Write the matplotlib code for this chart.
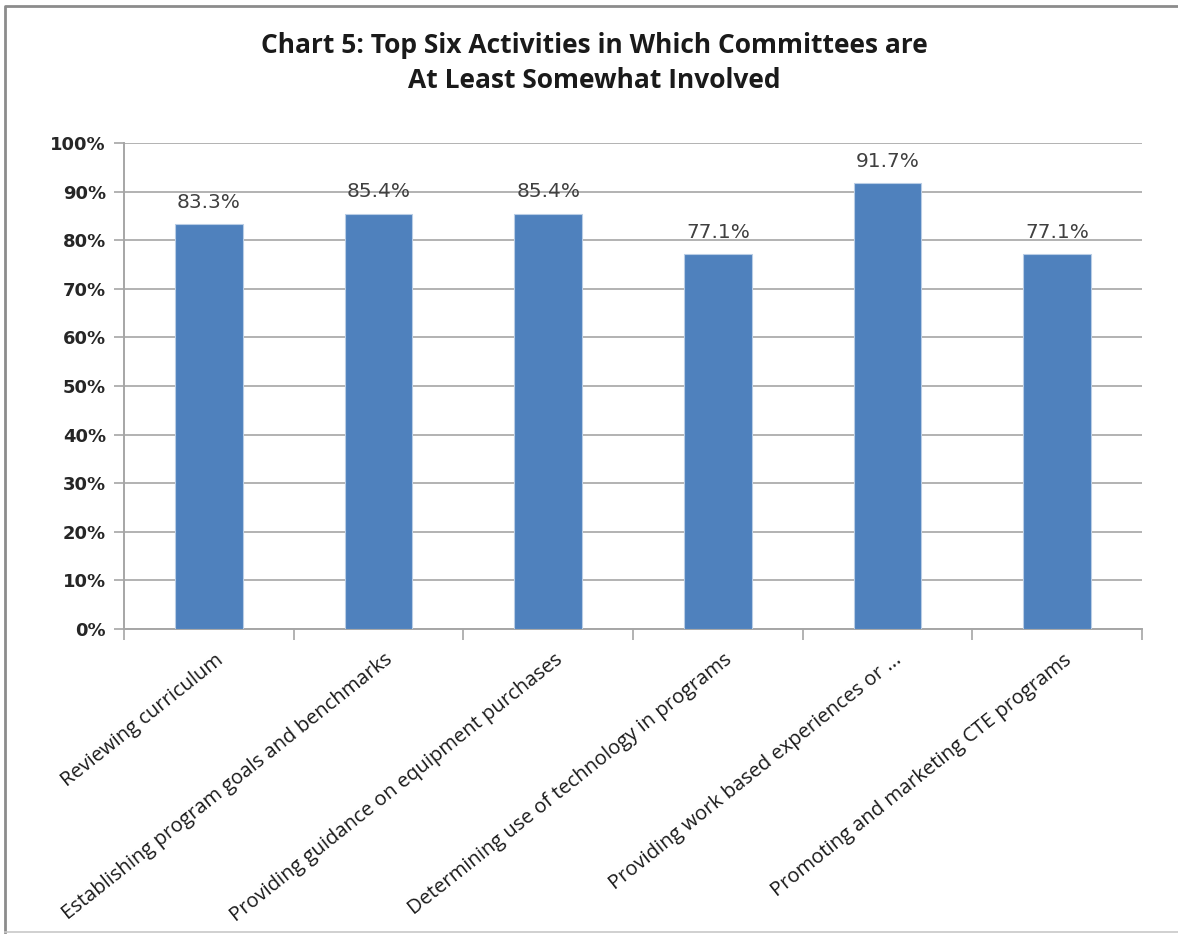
import matplotlib
matplotlib.use("Agg")
import matplotlib.pyplot as plt
from matplotlib.ticker import FuncFormatter, MultipleLocator
from matplotlib.transforms import ScaledTranslation

categories = [
    "Reviewing curriculum",
    "Establishing program goals and benchmarks",
    "Providing guidance on equipment purchases",
    "Determining use of technology in programs",
    "Providing work based experiences or ...",
    "Promoting and marketing CTE programs",
]
values = [83.3, 85.4, 85.4, 77.1, 91.7, 77.1]
title = "Chart 5: Top Six Activities in Which Committees are\nAt Least Somewhat Involved"

W, H = 1178, 934
fig = plt.figure(figsize=(W / 100, H / 100), dpi=100)
fig.patch.set_facecolor("white")

# chart frame (open on the right)
fig.add_artist(plt.Line2D([5 / W, 5 / W, 1.0], [1 - 932 / H, 1 - 6 / H, 1 - 6 / H],
                          transform=fig.transFigure, color="#8c8c8c", linewidth=2.0))
fig.add_artist(plt.Line2D([5 / W, 1.0], [1 - 932 / H, 1 - 932 / H],
                          transform=fig.transFigure, color="#c8c8c8", linewidth=1.2))

ax = fig.add_axes([124 / W, 1 - 629 / H, (1142 - 124) / W, (629 - 143) / H])

x = list(range(len(categories)))
ax.bar(x, values, width=0.4, color="#4F81BD", edgecolor="#b9cde5",
       linewidth=0.8, zorder=3)

ax.set_xlim(-0.5, len(categories) - 0.5)
ax.set_ylim(0, 100)
ax.yaxis.set_major_locator(MultipleLocator(10))
ax.yaxis.set_major_formatter(FuncFormatter(lambda v, p: f"{v:.0f}%"))
ax.grid(axis="y", color="#a6a6a6", linewidth=1.2, zorder=0)

for s in ["top", "right"]:
    ax.spines[s].set_visible(False)
for s in ["left", "bottom"]:
    ax.spines[s].set_color("#a6a6a6")
    ax.spines[s].set_linewidth(1.4)

ax.tick_params(axis="y", length=7, width=1.2, color="#a6a6a6",
               labelsize=13, labelcolor="#262626", pad=6)
for lab in ax.get_yticklabels():
    lab.set_fontweight("bold")

# category boundary ticks
ax.set_xticks([i - 0.5 for i in range(len(categories) + 1)], minor=False)
ax.set_xticklabels([])
ax.tick_params(axis="x", which="major", length=8, width=1.2, color="#a6a6a6")
ax.set_xticks(x, minor=True)
ax.set_xticklabels(categories, minor=True, rotation=38.5, ha="right",
                   rotation_mode="anchor", fontsize=14.5, family="Open Sans",
                   color="#1a1a1a")
ax.tick_params(axis="x", which="minor", length=0, pad=15)
shift = ScaledTranslation(6 / 100, 0, fig.dpi_scale_trans)
for lab in ax.get_xticklabels(minor=True):
    lab.set_transform(lab.get_transform() + shift)

for xi, v in zip(x, values):
    ax.annotate(f"{v:.1f}%", (xi, v), xytext=(0, 9), textcoords="offset points",
                ha="center", va="bottom", fontsize=14.5, color="#404040")

fig.text(594 / W, 1 - 63 / H, title, ha="center", va="center",
         fontsize=19, fontweight="bold", family="Open Sans",
         color="#1a1a1a", linespacing=1.35)

fig.savefig("out.png", dpi=100)
